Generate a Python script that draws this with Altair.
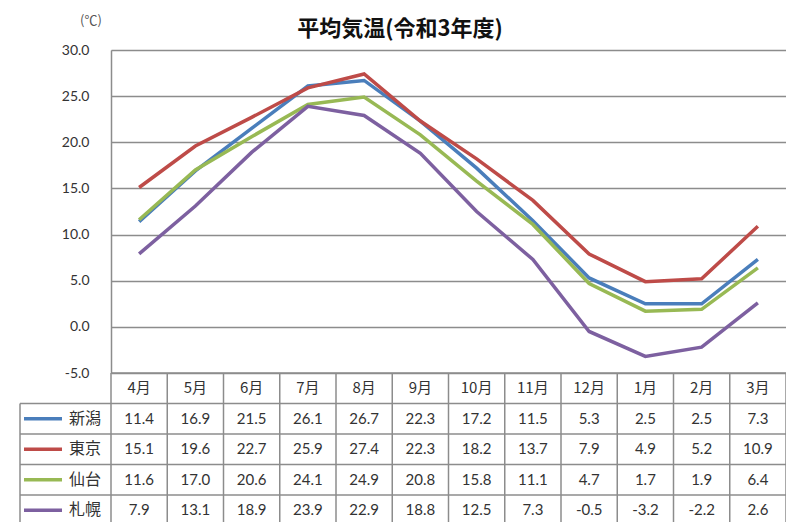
import altair as alt
import pandas as pd

months = ["4月", "5月", "6月", "7月", "8月", "9月", "10月", "11月", "12月", "1月", "2月", "3月"]
cities = ["新潟", "東京", "仙台", "札幌"]
niigata = [11.4, 16.9, 21.5, 26.1, 26.7, 22.3, 17.2, 11.5, 5.3, 2.5, 2.5, 7.3]
tokyo = [15.1, 19.6, 22.7, 25.9, 27.4, 22.3, 18.2, 13.7, 7.9, 4.9, 5.2, 10.9]
sendai = [11.6, 17.0, 20.6, 24.1, 24.9, 20.8, 15.8, 11.1, 4.7, 1.7, 1.9, 6.4]
sapporo = [7.9, 13.1, 18.9, 23.9, 22.9, 18.8, 12.5, 7.3, -0.5, -3.2, -2.2, 2.6]
colors = ["#4A7EBB", "#BE4B48", "#98B954", "#7D60A0"]
title_text = "平均気温(令和3年度)"
unit_text = "(℃)"

series = [niigata, tokyo, sendai, sapporo]
rows = []
for c, vals in zip(cities, series):
    for i, (m, v) in enumerate(zip(months, vals)):
        rows.append({"city": c, "month": m, "idx": i, "temp": v, "label": f"{v:.1f}"})
df = pd.DataFrame(rows)
mdf = pd.DataFrame({"month": months, "idx": list(range(len(months)))})

W, H = 675, 323
ROW = 30.5
FONT = "Noto Sans CJK JP"
NUMFONT = "Lato"
GRID = "#8c8c8c"
TXT = "#333333"

xscale = alt.Scale(domain=[-0.5, len(months) - 0.5], nice=False, zero=False)
yscale = alt.Scale(domain=[-5, 30], nice=False)

lines = alt.Chart(df).mark_line(strokeWidth=3.5).encode(
    x=alt.X("idx:Q", scale=xscale, axis=None),
    y=alt.Y("temp:Q", scale=yscale,
            axis=alt.Axis(values=[-5, 0, 5, 10, 15, 20, 25, 30], title=None,
                          labelExpr="replace(format(datum.value, '.1f'), '\u2212', '-')",
                          grid=True, gridColor=GRID, gridWidth=1.5, domain=True,
                          domainColor=GRID, domainWidth=1.5, ticks=False, labelPadding=22,
                          labelFontSize=14, labelColor=TXT, labelFont=NUMFONT)),
    color=alt.Color("city:N", scale=alt.Scale(domain=cities, range=colors), legend=None),
    detail="city:N",
)

layers = [lines]
BOTTOM = H + 5 * ROW + 10

# table vertical separators at column boundaries
vrules = alt.Chart(mdf).transform_calculate(b="datum.idx - 0.5").mark_rule(
    color=GRID, strokeWidth=1.5).encode(
    x=alt.X("b:Q", scale=xscale, axis=None),
    y=alt.value(H), y2=alt.value(BOTTOM),
)
layers.append(vrules)
layers.append(alt.Chart(mdf.head(1)).mark_rule(color=GRID, strokeWidth=1.5).encode(
    x=alt.value(W), y=alt.value(H), y2=alt.value(BOTTOM)))

# header row top line (plot bottom) and row lines
layers.append(alt.Chart(mdf.head(1)).mark_rule(color=GRID, strokeWidth=1.5).encode(
    x=alt.value(0), x2=alt.value(W), y=alt.value(H)))
for r in range(1, 6):
    layers.append(alt.Chart(mdf.head(1)).mark_rule(color=GRID, strokeWidth=1.5).encode(
        x=alt.value(-91), x2=alt.value(W), y=alt.value(H + r * ROW)))
layers.append(alt.Chart(mdf.head(1)).mark_rule(color=GRID, strokeWidth=1.5).encode(
    x=alt.value(-91), y=alt.value(H + ROW), y2=alt.value(BOTTOM)))

# header month labels
layers.append(alt.Chart(mdf).mark_text(font=FONT, fontSize=15, color=TXT, baseline="middle").encode(
    x=alt.X("idx:Q", scale=xscale, axis=None),
    y=alt.value(H + ROW / 2),
    text="month:N",
))

for r, (c, col) in enumerate(zip(cities, colors)):
    yc = H + ROW * (r + 1) + ROW / 2
    sub = df[df.city == c]
    layers.append(alt.Chart(sub).mark_text(font=NUMFONT, fontSize=15, color=TXT, baseline="middle").encode(
        x=alt.X("idx:Q", scale=xscale, axis=None),
        y=alt.value(yc),
        text="label:N",
    ))
    layers.append(alt.Chart(sub.head(1)).mark_rule(color=col, strokeWidth=3.5).encode(
        x=alt.value(-87), x2=alt.value(-49), y=alt.value(yc)))
    layers.append(alt.Chart(sub.head(1)).mark_text(font=FONT, fontSize=16, color=TXT,
                                                   baseline="middle", align="center").encode(
        x=alt.value(-26), y=alt.value(yc), text="city:N"))

# title and unit
layers.append(alt.Chart(mdf.head(1)).mark_text(font=FONT, fontSize=22, fontWeight="bold",
                                               color="#111111", baseline="middle").encode(
    x=alt.value(289), y=alt.value(-21)).transform_calculate(t=f"'{title_text}'").encode(text="t:N"))
layers.append(alt.Chart(mdf.head(1)).mark_text(font=FONT, fontSize=13, color="#555555",
                                               baseline="middle").encode(
    x=alt.value(-20), y=alt.value(-29)).transform_calculate(u=f"'{unit_text}'").encode(text="u:N"))

chart = alt.layer(*layers).properties(
    width=W, height=H,
    autosize=alt.AutoSizeParams(type="none"),
    padding={"left": 103, "top": 42, "right": 0, "bottom": 149},
).configure_view(stroke=None).configure(background="white")

chart.save("out.html", embed_options={"renderer": "svg", "actions": False})
